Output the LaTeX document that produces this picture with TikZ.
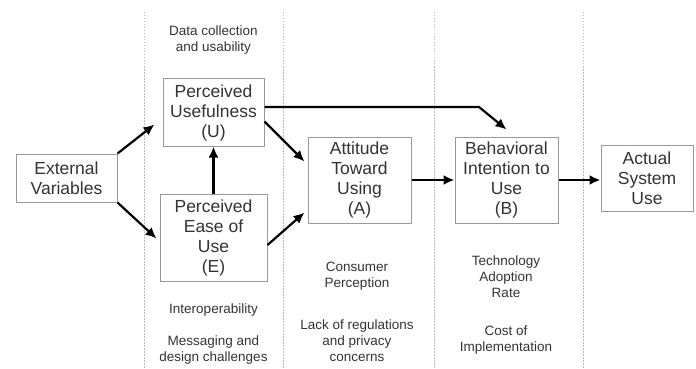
\documentclass[tikz,border=0pt]{standalone}
\usepackage{fontspec}
\setmainfont{Liberation Sans}
\usetikzlibrary{arrows.meta}
\definecolor{boxline}{HTML}{999999}
\definecolor{txt}{HTML}{333333}
\definecolor{divline}{HTML}{BBBBBB}
\begin{document}
\begin{tikzpicture}[x=1pt,y=-1pt,
  box/.style={draw=boxline,line width=1pt,text=txt,align=center,inner sep=0pt,
    font=\fontsize{17.5}{20}\selectfont},
  note/.style={text=txt,align=center,inner sep=0pt,font=\fontsize{13.5}{16}\selectfont},
  arr/.style={line width=2.2pt,-{Latex[length=11pt,width=10pt]}},
  divider/.style={draw=divline,line width=0.8pt,dash pattern=on 1.5pt off 1.5pt}]
\useasboundingbox (0,0) rectangle (696,369);
% dividers
\foreach \x/\n in {144/d1,283/d2,434/d3,583/d4}{
  \coordinate (\n t) at (\x,12);
  \coordinate (\n b) at (\x,369);
  \draw[divider] (\n t) -- (\n b);
}
% boxes
\node[box,minimum width=101pt,minimum height=48pt] (ext) at (66.5,178) {External\\Variables};
\node[box,minimum width=101pt,minimum height=67pt] (U) at (213.5,112.5) {Perceived\\Usefulness\\(U)};
\node[box,minimum width=107pt,minimum height=87pt] (E) at (213.5,237.5) {Perceived\\Ease of\\Use\\(E)};
\node[box,minimum width=103pt,minimum height=86pt] (A) at (359.5,180) {Attitude\\Toward\\Using\\(A)};
\node[box,minimum width=103pt,minimum height=86pt] (B) at (506.5,180) {Behavioral\\Intention to\\Use\\(B)};
\node[box,minimum width=92pt,minimum height=66pt] (act) at (647,178) {Actual\\System\\Use};
% notes
\node[note] (n1) at (213.5,40) {Data collection\\and usability};
\node[note] (n2) at (213.5,310) {Interoperability};
\node[note] (n3) at (213.5,350) {Messaging and\\design challenges};
\node[note] (n4) at (357,276) {Consumer\\Perception};
\node[note] (n5) at (357,341) {Lack of regulations\\and privacy\\concerns};
\node[note] (n6) at (506,277) {Technology\\Adoption\\Rate};
\node[note] (n7) at (506,340) {Cost of\\Implementation};
% arrows
\coordinate (bend) at (479,107);
\draw[arr] (ext.north east) -- ([xshift=-8pt,yshift=22pt]U.south west);
\draw[arr] (ext.south east) -- ([xshift=-3pt,yshift=-1pt]E.west);
\draw[arr] (E.north) -- (U.south);
\draw[arr] ([yshift=-9pt]U.east) -- ([xshift=-3pt,yshift=-25pt]A.north west);
\draw[arr] ([yshift=-7.5pt]E.east) -- ([xshift=-3pt,yshift=11pt]A.south west);
\draw[arr] ([yshift=5.5pt]U.east) -- (bend) -- ([yshift=7pt]B.north);
\draw[arr] (A.east) -- (B.west);
\draw[arr] (B.east) -- (act.west |- B.east);
\end{tikzpicture}
\end{document}
